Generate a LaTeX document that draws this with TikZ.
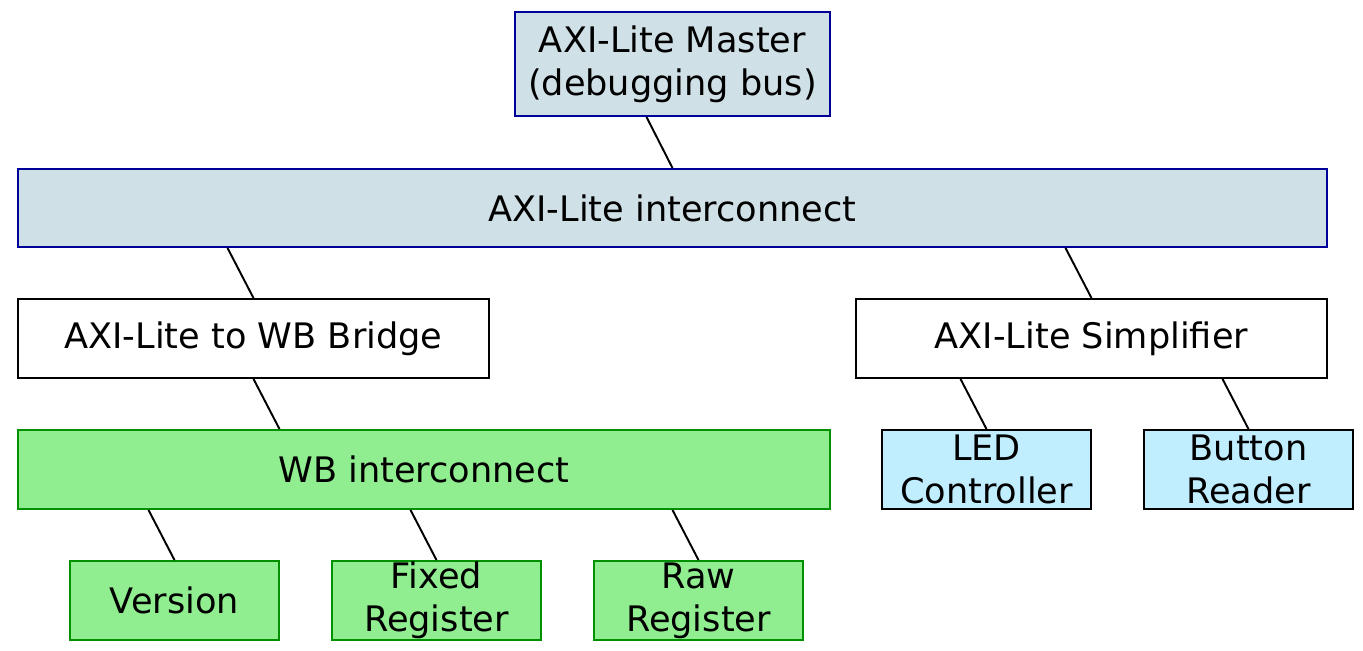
\documentclass[tikz,border=0pt]{standalone}
\usepackage{fontspec}
\setmainfont{DejaVu Sans}
\definecolor{axifill}{HTML}{D0E0E7}
\definecolor{axiline}{HTML}{000098}
\definecolor{wbfill}{HTML}{90EE90}
\definecolor{wbline}{HTML}{009000}
\definecolor{perfill}{HTML}{C0EEFF}
\tikzset{
  blk/.style={draw, line width=1.1pt, inner sep=0pt, align=center,
    font=\fontsize{20}{24.5}\selectfont},
  axiblk/.style={blk, draw=axiline, fill=axifill},
  wbblk/.style={blk, draw=wbline, fill=wbfill},
  perblk/.style={blk, fill=perfill},
}
\begin{document}
\begin{tikzpicture}[x=0.02cm, y=-0.02cm, line width=1.1pt]
    \useasboundingbox (0,0) rectangle (1363,650);
    % AXI-Lite側
    \node[axiblk, minimum width=6.3cm, minimum height=2.08cm] (master) at (672.5,64) {AXI-Lite Master\\(debugging bus)};
    \node[axiblk, minimum width=26.18cm, minimum height=1.56cm] (axi) at (672.5,208) {AXI-Lite interconnect};
    \node[blk, minimum width=9.42cm, minimum height=1.58cm] (bridge) at (253.5,338.5) {AXI-Lite to WB Bridge};
    \node[blk, minimum width=9.42cm, minimum height=1.58cm] (simpl) at (1091.5,338.5) {AXI-Lite Simplifier};
    \node[perblk, minimum width=4.18cm, minimum height=1.58cm] (led) at (986.5,469.5) {LED\\Controller};
    \node[perblk, minimum width=4.18cm, minimum height=1.58cm] (btn) at (1248.5,469.5) {Button\\Reader};
    
    % WB側
    \node[wbblk, minimum width=16.24cm, minimum height=1.58cm] (wb) at (424,469.5) {WB interconnect};
    \node[wbblk, minimum width=4.18cm, minimum height=1.58cm] (version) at (174.5,600.5) {Version};
    \node[wbblk, minimum width=4.18cm, minimum height=1.58cm] (fixed) at (436.5,600.5) {Fixed\\Register};
    \node[wbblk, minimum width=4.18cm, minimum height=1.58cm] (raw) at (698.5,600.5) {Raw\\Register};
    
    % 接続線
    \foreach \up/\dn in {master/axi, axi/bridge, axi/simpl, simpl/led, simpl/btn, wb/version, wb/fixed, wb/raw}
      \draw ([xshift=-0.52cm]\dn.north |- \up.south) -- (\dn.north);
    \draw (bridge.south) -- ([xshift=0.52cm]bridge.south |- wb.north);
  \end{tikzpicture}
\end{document}
